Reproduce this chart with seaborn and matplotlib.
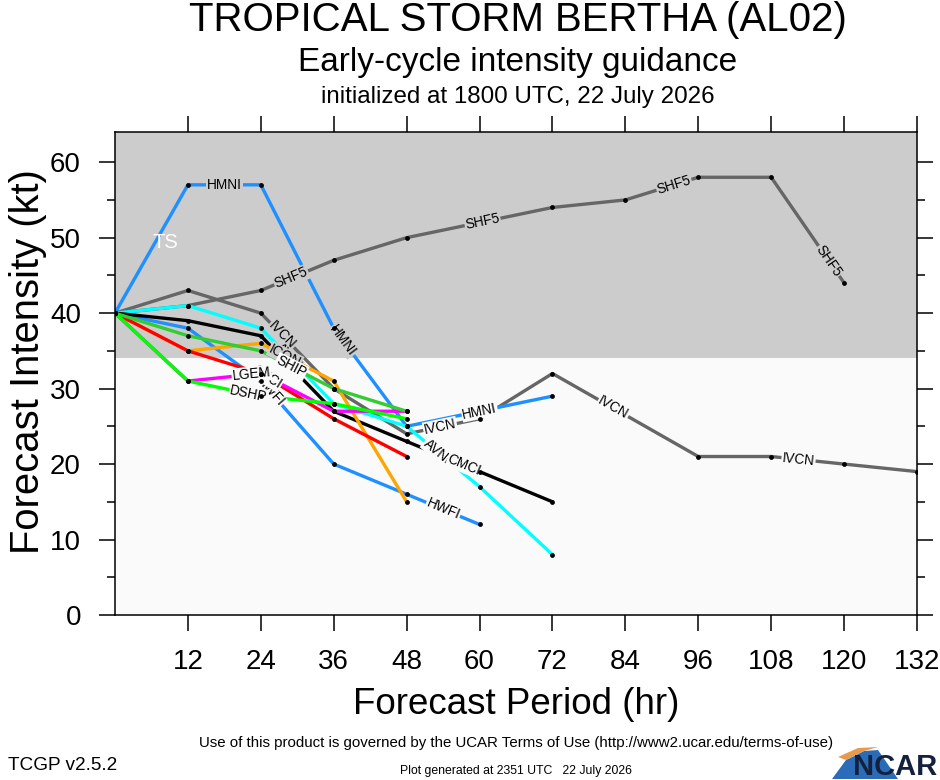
import numpy as np
import pandas as pd
import matplotlib
matplotlib.use("Agg")
import matplotlib.pyplot as plt
from matplotlib.patches import Polygon
import seaborn as sns

# ---------------- data ----------------
hours = [0, 12, 24, 36, 48, 60, 72, 84, 96, 108, 120, 132]
nan = np.nan
SHF5 = [40, 41, 43, 47, 50, nan, 54, 55, 58, 58, 44, nan]
IVCN = [40, 43, 40, 30, 24, 26, 32, nan, 21, 21, 20, 19]
HMNI = [40, 57, 57, 38, 25, nan, 29, nan, nan, nan, nan, nan]
HWFI = [40, 38, 31, 20, 16, 12, nan, nan, nan, nan, nan, nan]
AVNI = [40, 41, 38, 28, 25, 17, 8, nan, nan, nan, nan, nan]
CMCI = [40, 39, 37, 27, 23, 19, 15, nan, nan, nan, nan, nan]
ICON = [40, 35, 36, 31, 15, nan, nan, nan, nan, nan, nan, nan]
CTCI = [40, 35, 32, 26, 21, nan, nan, nan, nan, nan, nan, nan]
LGEM = [40, 31, 32, 27, 27, nan, nan, nan, nan, nan, nan, nan]
SHIP = [40, 37, 35, 30, 27, nan, nan, nan, nan, nan, nan, nan]
DSHP = [40, 31, 29, 28, 26, nan, nan, nan, nan, nan, nan, nan]

models = ["SHF5", "IVCN", "HMNI", "HWFI", "AVNI", "CMCI",
          "ICON", "CTCI", "LGEM", "SHIP", "DSHP"]
values = [SHF5, IVCN, HMNI, HWFI, AVNI, CMCI, ICON, CTCI, LGEM, SHIP, DSHP]
colors = ["#666666", "#666666", "#1e90ff", "#1e90ff", "#00ffff", "#000000",
          "#ffa500", "#ff0000", "#ff00ff", "#32cd32", "#00ff00"]
# where along each line (in hours) its name is written
label_hours = {
    "SHF5": [29, 60.5, 92, 117.5],
    "IVCN": [27.5, 53.5, 82, 112.5],
    "HMNI": [18, 37.5, 60],
    "HWFI": [25.5, 54],
    "AVNI": [28.5, 53],
    "CMCI": [57.5],
    "ICON": [28],
    "CTCI": [25],
    "LGEM": [22.5],
    "SHIP": [29],
    "DSHP": [22],
}
xticks = [12, 24, 36, 48, 60, 72, 84, 96, 108, 120, 132]
yticks = [0, 10, 20, 30, 40, 50, 60]
yminor = [5, 15, 25, 35, 45, 55]
ts_threshold = 34

rows = []
for m, v in zip(models, values):
    for h, k in zip(hours, v):
        if not np.isnan(k):
            rows.append((m, h, k))
df = pd.DataFrame(rows, columns=["model", "hour", "kt"])
palette = dict(zip(models, colors))

# ---------------- figure ----------------
sns.set_style("white")
plt.rcParams["font.family"] = ["Liberation Sans", "DejaVu Sans"]
plt.rcParams["text.color"] = "black"
plt.rcParams["axes.labelcolor"] = "black"
plt.rcParams["xtick.color"] = "black"
plt.rcParams["ytick.color"] = "black"

W, H = 940, 780
fig = plt.figure(figsize=(W / 100, H / 100), dpi=100)
L, R, T, B = 115, 917, 132, 615
ax = fig.add_axes([L / W, 1 - B / H, (R - L) / W, (B - T) / H])
ax.set_xlim(0, 132)
ax.set_ylim(0, 64)
ax.set_facecolor("#fafafa")
ax.axhspan(ts_threshold, 64, color="#cccccc", zorder=0, lw=0)

sns.lineplot(data=df, x="hour", y="kt", hue="model", palette=palette,
             hue_order=models, estimator=None, sort=False, lw=2.4,
             legend=False, ax=ax, zorder=2)
sns.scatterplot(data=df, x="hour", y="kt", color="black", s=12,
                linewidth=0, legend=False, ax=ax, zorder=6)

# inline line labels
for m in models:
    sub = df[df.model == m]
    hx = sub.hour.values
    ky = sub.kt.values
    for h in label_hours[m]:
        y = np.interp(h, hx, ky)
        i = max(0, min(len(hx) - 2, np.searchsorted(hx, h) - 1))
        ang = np.degrees(np.arctan2(ky[i + 1] - ky[i], hx[i + 1] - hx[i]))
        bg = "#cccccc" if y > ts_threshold else "#fafafa"
        ax.text(h, y, m, fontsize=9.8, ha="center", va="center",
                color="black", rotation=ang, rotation_mode="anchor",
                transform_rotates_text=True, zorder=4,
                bbox=dict(facecolor=bg, edgecolor="none", pad=0.6))

ax.text(8.3, 49.3, "TS", color="white", fontsize=14.5, ha="center",
        va="center", zorder=3)

# axes styling
ax.set_xlabel("")
ax.set_ylabel("")
ax.set_xticks(xticks)
ax.set_xticklabels([str(t) for t in xticks])
ax.set_yticks(yticks)
ax.set_yticklabels([str(t) for t in yticks])
ax.set_yticks(yminor, minor=True)
ax.tick_params(axis="both", which="major", direction="out", length=11.5,
               width=1.1, labelsize=20, colors="black", labelcolor="black",
               pad=13)
ax.tick_params(axis="y", which="minor", direction="out", length=5.8,
               width=1.1, colors="black")
ax.tick_params(axis="x", which="both", top=True, bottom=True)
ax.tick_params(axis="y", which="both", left=True, right=True)
for s in ax.spines.values():
    s.set_visible(True)
    s.set_color("black")
    s.set_linewidth(1.1)

# texts
cx = 518 / W
fig.text(cx, 1 - 20 / H, "TROPICAL STORM BERTHA (AL02)", fontsize=29,
         ha="center", va="center", color="black")
fig.text(cx, 1 - 62 / H, "Early-cycle intensity guidance", fontsize=24,
         ha="center", va="center", color="black")
fig.text(cx, 1 - 97 / H, "initialized at 1800 UTC, 22 July 2026",
         fontsize=17.4, ha="center", va="center", color="black")
fig.text(516 / W, 1 - 705 / H, "Forecast Period (hr)", fontsize=26.5,
         ha="center", va="center", color="black")
fig.text(28 / W, 1 - 362 / H, "Forecast Intensity (kt)", fontsize=28.8,
         ha="center", va="center", rotation=90, color="black")
fig.text(516 / W, 1 - 743 / H,
         "Use of this product is governed by the UCAR Terms of Use "
         "(http://www2.ucar.edu/terms-of-use)",
         fontsize=10.8, ha="center", va="center", color="black")
fig.text(516 / W, 1 - 771 / H,
         "Plot generated at 2351 UTC   22 July 2026",
         fontsize=8.8, ha="center", va="center", color="black")
fig.text(8 / W, 1 - 765 / H, "TCGP v2.5.2", fontsize=13.7,
         ha="left", va="center", color="black")

# NCAR logo (approximate)
def fx(px):
    return px / W

def fy(py):
    return 1 - py / H

swoosh = Polygon([(fx(832), fy(779)), (fx(846), fy(760)), (fx(864), fy(751)),
                  (fx(878), fy(750)), (fx(898), fy(779))],
                 closed=True, transform=fig.transFigure,
                 facecolor="#2a6cb8", edgecolor="none")
swoosh2 = Polygon([(fx(838), fy(757)), (fx(858), fy(748)), (fx(878), fy(747)),
                   (fx(864), fy(751)), (fx(846), fy(760))],
                  closed=True, transform=fig.transFigure,
                  facecolor="#e89a4a", edgecolor="none")
fig.patches.extend([swoosh, swoosh2])
fig.text(fx(937), fy(767), "NCAR", fontsize=21, fontweight="bold",
         color="#14213d", ha="right", va="center")

fig.savefig("out.png", dpi=100)
